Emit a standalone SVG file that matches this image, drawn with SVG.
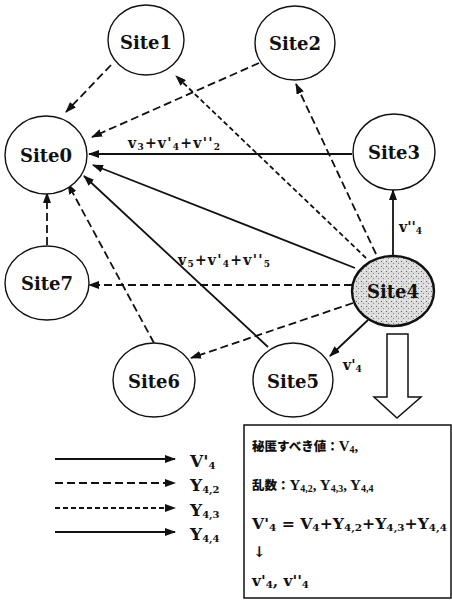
<svg xmlns="http://www.w3.org/2000/svg" width="452" height="600" viewBox="0 0 452 600">
<style>
.node{fill:#fff;stroke:#111;stroke-width:1.4}
.lbl{font-family:"DejaVu Serif","Liberation Serif",serif;font-weight:bold;font-size:18px;fill:#111;text-anchor:middle}
.e{stroke:#111;stroke-width:1.8;fill:none}
.ld{stroke-dasharray:8 4}
.sd{stroke-dasharray:5 3}
.el{font-family:"DejaVu Serif","Liberation Serif",serif;font-weight:bold;font-size:14px;fill:#111}
.bx{font-family:"DejaVu Serif","Noto Sans CJK JP",serif;font-weight:bold;font-size:15px;fill:#111}
.bl{font-family:"Liberation Serif","Noto Sans CJK JP",serif;font-weight:bold;font-size:15px;fill:#111}
.jp{font-family:"Noto Sans CJK JP",sans-serif;font-weight:900;font-size:12.5px}
.lg{font-family:"DejaVu Serif","Liberation Serif",serif;font-weight:bold;font-size:17px;fill:#111}
.s{font-size:9px}
.s2{font-size:10px}
</style>
<defs>
<marker id="ah" markerUnits="userSpaceOnUse" markerWidth="11" markerHeight="8" refX="10" refY="4" orient="auto">
<path d="M0,0 L11,4 L0,8 z" fill="#111"/>
</marker>
<pattern id="stip" width="5" height="5" patternUnits="userSpaceOnUse">
<rect width="5" height="5" fill="#dcdcdc"/>
<rect x="1" y="1" width="1" height="1" fill="#666"/>
<rect x="3" y="3" width="1" height="1" fill="#888"/>
<rect x="4" y="0" width="1" height="1" fill="#fff"/>
</pattern>
</defs>
<g id="connectors">
<line class="e ld" x1="111" y1="65" x2="66" y2="112" marker-end="url(#ah)"/>
<line class="e ld" x1="259" y1="63" x2="92" y2="137" marker-end="url(#ah)"/>
<line class="e" x1="352" y1="154" x2="89" y2="154" marker-end="url(#ah)"/>
<line class="e sd" x1="366" y1="258" x2="176" y2="76" marker-end="url(#ah)"/>
<line class="e ld" x1="376" y1="254" x2="296" y2="84" marker-end="url(#ah)"/>
<line class="e" x1="393" y1="256" x2="393" y2="190" marker-end="url(#ah)"/>
<line class="e" x1="355" y1="268" x2="93" y2="165" marker-end="url(#ah)"/>
<line class="e" x1="268" y1="347" x2="84" y2="176" marker-end="url(#ah)"/>
<line class="e ld" x1="352" y1="285" x2="89" y2="285" marker-end="url(#ah)"/>
<line class="e ld" x1="47" y1="245" x2="47" y2="193" marker-end="url(#ah)"/>
<line class="e ld" x1="154" y1="343" x2="68" y2="184" marker-end="url(#ah)"/>
<line class="e ld" x1="353" y1="303" x2="191" y2="358" marker-end="url(#ah)"/>
<line class="e" x1="368" y1="320" x2="330" y2="356" marker-end="url(#ah)"/>
<text class="el" x="128" y="148" textLength="92">v<tspan class="s" baseline-shift="-2">3</tspan>+v'<tspan class="s" baseline-shift="-2">4</tspan>+v''<tspan class="s" baseline-shift="-2">2</tspan></text>
<text class="el" x="178" y="265" textLength="92">v<tspan class="s" baseline-shift="-2">5</tspan>+v'<tspan class="s" baseline-shift="-2">4</tspan>+v''<tspan class="s" baseline-shift="-2">5</tspan></text>
<text class="el" x="399" y="232">v''<tspan class="s" baseline-shift="-2">4</tspan></text>
<text class="el" x="343" y="370">v'<tspan class="s" baseline-shift="-2">4</tspan></text>
</g>
<g id="Site1"><ellipse class="node" cx="146" cy="40" rx="38" ry="35"/><text class="lbl" x="146" y="49">Site1</text></g>
<g id="Site2"><ellipse class="node" cx="295" cy="43" rx="40" ry="37"/><text class="lbl" x="295" y="50">Site2</text></g>
<g id="Site0"><ellipse class="node" cx="46" cy="155" rx="41" ry="39"/><text class="lbl" x="46" y="162">Site0</text></g>
<g id="Site3"><ellipse class="node" cx="394" cy="152" rx="41" ry="38"/><text class="lbl" x="394" y="159">Site3</text></g>
<g id="Site7"><ellipse class="node" cx="47" cy="283" rx="42" ry="37"/><text class="lbl" x="47" y="290">Site7</text></g>
<g id="Site4"><ellipse cx="393" cy="291" rx="41" ry="35" fill="url(#stip)" stroke="#111" stroke-width="2.4"/><text class="lbl" x="393" y="298" font-size="19">Site4</text></g>
<g id="Site5"><ellipse class="node" cx="293" cy="380" rx="40" ry="37"/><text class="lbl" x="293" y="388">Site5</text></g>
<g id="Site6"><ellipse class="node" cx="154" cy="380" rx="41" ry="37"/><text class="lbl" x="154" y="388">Site6</text></g>
<g id="bigarrow"><polygon points="387,334 408,334 408,397 421,397 397,418 374,397 387,397" fill="#fff" stroke="#111" stroke-width="1.5"/></g>
<g id="box">
<rect x="244" y="425" width="207" height="173" fill="#fff" stroke="#111" stroke-width="1.5"/>
<text class="bl" x="252" y="451"><tspan class="jp">秘匿すべき値：</tspan>V<tspan class="s2" baseline-shift="-2">4</tspan>,</text>
<text class="bl" x="252" y="490"><tspan class="jp">乱数：</tspan>Y<tspan class="s2" baseline-shift="-2">4,2</tspan>, Y<tspan class="s2" baseline-shift="-2">4,3</tspan>, Y<tspan class="s2" baseline-shift="-2">4,4</tspan></text>
<text class="bx" x="252" y="529" textLength="195" lengthAdjust="spacingAndGlyphs">V'<tspan class="s2" baseline-shift="-2">4</tspan> = V<tspan class="s2" baseline-shift="-2">4</tspan>+Y<tspan class="s2" baseline-shift="-2">4,2</tspan>+Y<tspan class="s2" baseline-shift="-2">4,3</tspan>+Y<tspan class="s2" baseline-shift="-2">4,4</tspan></text>
<text class="bx" x="253" y="557">↓</text>
<text class="bx" x="252" y="586" textLength="57" lengthAdjust="spacingAndGlyphs">v'<tspan class="s2" baseline-shift="-2">4</tspan>, v''<tspan class="s2" baseline-shift="-2">4</tspan></text>
</g>
<g id="legend">
<line class="e" x1="55" y1="459" x2="175" y2="459" marker-end="url(#ah)"/>
<line class="e ld" x1="55" y1="483" x2="175" y2="483" marker-end="url(#ah)"/>
<line class="e sd" x1="55" y1="508" x2="175" y2="508" marker-end="url(#ah)"/>
<line class="e" x1="55" y1="532" x2="175" y2="532" marker-end="url(#ah)"/>
<text class="lg" x="190" y="467">V'<tspan class="s2" baseline-shift="-2">4</tspan></text>
<text class="lg" x="190" y="491">Y<tspan class="s2" baseline-shift="-2">4,2</tspan></text>
<text class="lg" x="190" y="516">Y<tspan class="s2" baseline-shift="-2">4,3</tspan></text>
<text class="lg" x="190" y="540">Y<tspan class="s2" baseline-shift="-2">4,4</tspan></text>
</g>
</svg>
